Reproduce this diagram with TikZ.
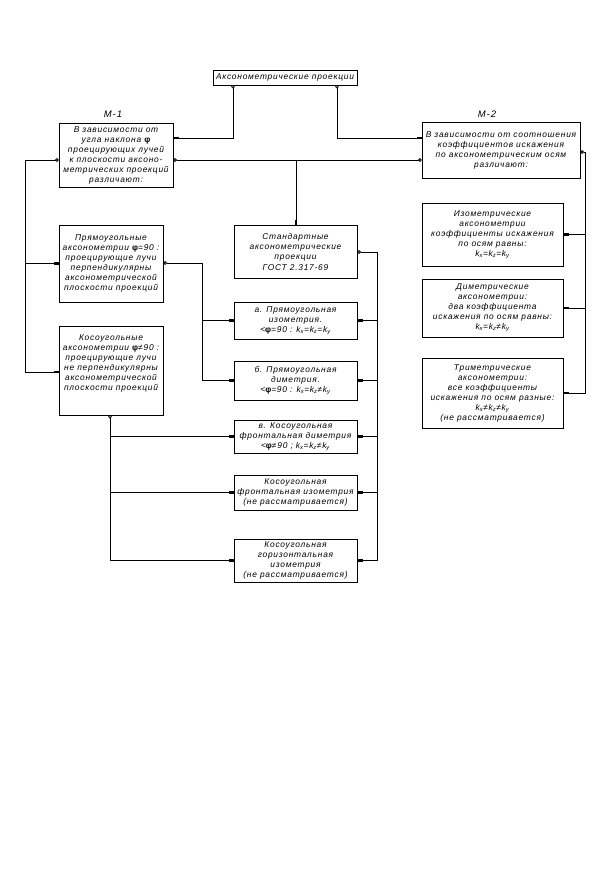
\documentclass[tikz,border=0pt]{standalone}
\usepackage{fontspec}
\newfontfamily\gost[LetterSpace=9]{Liberation Sans}
\usetikzlibrary{arrows.meta}
\tikzset{
  box/.style={draw, line width=0.8pt, inner sep=1pt, align=center,
    font=\gost\itshape\fontsize{8.4}{10}\selectfont},
  lbl/.style={font=\gost\itshape\fontsize{9.5}{10}\selectfont},
  conn/.style={line width=0.8pt},
  cb/.style={arrows={Circle[open,length=3.5pt,width=3.5pt]-Rectangle[length=5pt,width=2.2pt]}},
  cs/.style={arrows={Circle[open,length=3.5pt,width=3.5pt]-}},
  tb/.style={arrows={-Rectangle[length=5pt,width=2.2pt]}},
}
\begin{document}
\begin{tikzpicture}[x=1pt,y=-1pt]
\useasboundingbox[fill=white] (0,0) rectangle (601,872);

% boxes
\node[box, minimum width=144pt, minimum height=15pt] (title) at (285,77.5) {Аксонометрические проекции};
\node[lbl] (l1) at (113,114) {М-1};
\node[lbl] (l2) at (487,114) {М-2};
\node[box, minimum width=114pt, minimum height=64pt] (m1) at (116,155)
  {В зависимости от\\угла наклона {\upshape\bfseries φ}\\проецирующих лучей\\к плоскости аксоно-\\метрических проекций\\различают:};
\node[box, minimum width=158pt, minimum height=56pt] (m2) at (501,150)
  {В зависимости от соотношения\\коэффициентов искажения\\по аксонометрическим осям\\различают:};
\node[box, minimum width=104pt, minimum height=77pt] (pr) at (111,263.5)
  {Прямоугольные\\аксонометрии {\upshape\bfseries φ}=90 :\\проецирующие лучи\\перпендикулярны\\аксонометрической\\плоскости проекций};
\node[box, minimum width=104pt, minimum height=89pt] (ks) at (111,370.5)
  {Косоугольные\\аксонометрии {\upshape\bfseries φ}≠90 :\\проецирующие лучи\\не перпендикулярны\\аксонометрической\\плоскости проекций\\[5pt]};
\node[box, minimum width=123pt, minimum height=53pt] (std) at (295.5,251.5)
  {Стандартные\\аксонометрические\\проекции\\[1pt]ГОСТ 2.317-69};
\node[box, minimum width=123pt, minimum height=37pt] (a) at (295.5,320.5)
  {а. Прямоугольная\\изометрия.\\<{\upshape\bfseries φ}=90 : k\textsubscript{x}=k\textsubscript{z}=k\textsubscript{y}};
\node[box, minimum width=123pt, minimum height=39pt] (b) at (295.5,380.5)
  {б. Прямоугольная\\диметрия.\\<{\upshape\bfseries φ}=90 : k\textsubscript{x}=k\textsubscript{z}≠k\textsubscript{y}};
\node[box, minimum width=123pt, minimum height=33pt] (v) at (295.5,436.5)
  {в. Косоугольная\\фронтальная диметрия\\<{\upshape\bfseries φ}≠90 ; k\textsubscript{x}=k\textsubscript{z}≠k\textsubscript{y}};
\node[box, minimum width=123pt, minimum height=35pt] (g) at (295.5,492.5)
  {Косоугольная\\фронтальная изометрия\\(не рассматривается)};
\node[box, minimum width=123pt, minimum height=43pt] (d) at (295.5,560.5)
  {Косоугольная\\горизонтальная\\изометрия\\(не рассматривается)};
\node[box, minimum width=141pt, minimum height=63pt] (iso) at (492.5,234.5)
  {Изометрические\\аксонометрии\\коэффициенты искажения\\по осям равны:\\k\textsubscript{x}=k\textsubscript{z}=k\textsubscript{y}};
\node[box, minimum width=141pt, minimum height=58pt] (dim) at (492.5,308)
  {Диметрические\\аксонометрии:\\два коэффициента\\искажения по осям равны:\\k\textsubscript{x}=k\textsubscript{z}≠k\textsubscript{y}};
\node[box, minimum width=141pt, minimum height=70pt] (tri) at (492.5,393)
  {Триметрические\\аксонометрии:\\все коэффициенты\\искажения по осям разные:\\k\textsubscript{x}≠k\textsubscript{z}≠k\textsubscript{y}\\(не рассматривается)};

% junction coordinates
\coordinate (t1) at (233,85);
\coordinate (t2) at (337,85);
\coordinate (jc) at (296,160);
\coordinate (jl) at (25,160);
\coordinate (jp) at (202,263);
\coordinate (jk) at (110,415);
\coordinate (js) at (377,252);
\coordinate (jr) at (585,152);

% connectors from title
\draw[conn,cb] (t1) |- (m1.east |- 0,138);
\draw[conn,cb] (t2) |- (m2.west |- 0,138);
% main horizontal
\draw[conn,cs] (m1.east |- jc) -- (jc);
\draw[conn,cs] (m2.west |- jc) -- (jc);
\draw[conn,tb] (jc) -- (std.north -| jc);
% left trunk
\draw[conn,cb] (m1.west |- jl) -- (jl) |- (ks.west |- 0,372);
\draw[conn,tb] (jl |- pr.west) -- (pr.west);
% from pr
\draw[conn,cb] (pr.east |- jp) -- (jp) |- (b.west);
\draw[conn,tb] (jp |- a.west) -- (a.west);
% from ks
\draw[conn,cb] (jk) |- (d.west);
\draw[conn,tb] (jk |- v.west) -- (v.west);
\draw[conn,tb] (jk |- g.west) -- (g.west);
% from std
\draw[conn,cs] (std.east |- js) -- (js) -- (js |- d.east);
\draw[conn,tb] (js |- a.east) -- (a.east);
\draw[conn,tb] (js |- b.east) -- (b.east);
\draw[conn,tb] (js |- v.east) -- (v.east);
\draw[conn,tb] (js |- g.east) -- (g.east);
\draw[conn,tb] (js |- d.east) -- (d.east);
% from m2
\draw[conn,cb] (m2.east |- jr) -- (jr) |- (tri.east);
\draw[conn,tb] (jr |- iso.east) -- (iso.east);
\draw[conn,tb] (jr |- dim.east) -- (dim.east);
\end{tikzpicture}
\end{document}
